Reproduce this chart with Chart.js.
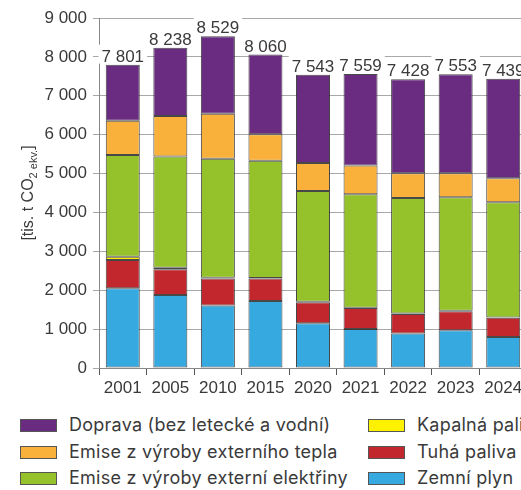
<!DOCTYPE html>
<html>
<head>
<meta charset="utf-8">
<script src="https://cdn.jsdelivr.net/npm/chart.js@4"></script>
<style>
  html, body { margin: 0; padding: 0; background: #fff; overflow: hidden; }
  #wrap { position: relative; width: 530px; height: 400px; }
  #legend { position: absolute; left: 0; top: 400px; width: 600px; font-family: Inter, sans-serif; font-size: 18px; letter-spacing: 0.25px; color: #3a3a3a; }
  .item { position: absolute; white-space: nowrap; height: 26px; line-height: 26px; }
  .item span.box { position: absolute; left: 0; top: 7px; width: 35px; height: 11px; border: 1px solid #555; }
  .item span.txt { position: absolute; left: 49px; top: 0; }
</style>
</head>
<body>
<div id="wrap"><canvas id="chart"></canvas></div>
<div id="legend"></div>
<script>
const years = ['2001', '2005', '2010', '2015', '2020', '2021', '2022', '2023', '2024'];
const zemniPlyn = [2050, 1880, 1610, 1720, 1150, 1000, 890, 970, 800];
const tuhaPaliva = [730, 660, 690, 580, 540, 540, 500, 490, 490];
const kapalnaPaliva = [80, 40, 20, 15, 15, 10, 10, 10, 10];
const elektrina = [2620, 2860, 3060, 3015, 2845, 2920, 2970, 2920, 2960];
const teplo = [880, 1040, 1160, 680, 720, 740, 640, 620, 620];
const doprava = [1441, 1758, 1989, 2050, 2273, 2349, 2418, 2543, 2559];
const totals = [7801, 8238, 8529, 8060, 7543, 7559, 7428, 7553, 7439];

const fmt = v => String(v).replace(/\B(?=(\d{3})+(?!\d))/g, ' ');
const textColor = '#3a3a3a';
const gridColor = '#a8a8a8';

function ds(label, data, color) {
  return {
    label, data, backgroundColor: color,
    borderColor: 'rgba(40,40,40,0.85)', borderWidth: 1, borderSkipped: false,
    barPercentage: 0.715, categoryPercentage: 1
  };
}

const datasets = [
  ds('Zemní plyn', zemniPlyn, '#36a9e1'),
  ds('Tuhá paliva', tuhaPaliva, '#c1272d'),
  ds('Kapalná paliva', kapalnaPaliva, '#fff200'),
  ds('Emise z výroby externí elektřiny', elektrina, '#95c12b'),
  ds('Emise z výroby externího tepla', teplo, '#f9b13b'),
  ds('Doprava (bez letecké a vodní)', doprava, '#6a2c81')
];

// popisky součtů nad sloupci (bílé pozadí překrývá mřížku)
const totalLabels = {
  id: 'totalLabels',
  afterDatasetsDraw(chart) {
    const ctx = chart.ctx;
    const meta = chart.getDatasetMeta(datasets.length - 1);
    ctx.save();
    ctx.font = '17px "Liberation Sans", Arial, sans-serif';
    ctx.textAlign = 'center';
    ctx.textBaseline = 'alphabetic';
    meta.data.forEach((bar, i) => {
      const t = fmt(totals[i]);
      const w = ctx.measureText(t).width;
      const base = bar.y - 3;
      ctx.fillStyle = '#fff';
      ctx.fillRect(bar.x - w / 2 - 3, base - 17, w + 6, 19);
      ctx.fillStyle = textColor;
      ctx.fillText(t, bar.x, base);
    });
    ctx.restore();
  }
};

// popisek osy Y s dolním indexem
const yTitle = {
  id: 'yTitle',
  afterDraw(chart) {
    const ctx = chart.ctx;
    const a = chart.chartArea;
    const parts = [
      ['[tis. t CO', '16px "Liberation Sans", Arial, sans-serif', 0],
      ['2 ekv.', '11px "Liberation Sans", Arial, sans-serif', 4],
      [']', '16px "Liberation Sans", Arial, sans-serif', 0]
    ];
    ctx.save();
    let total = 0;
    parts.forEach(p => { ctx.font = p[1]; total += ctx.measureText(p[0]).width; });
    ctx.translate(33, (a.top + a.bottom) / 2);
    ctx.rotate(-Math.PI / 2);
    ctx.fillStyle = textColor;
    ctx.textBaseline = 'alphabetic';
    let x = -total / 2;
    parts.forEach(p => {
      ctx.font = p[1];
      ctx.fillText(p[0], x, p[2]);
      x += ctx.measureText(p[0]).width;
    });
    ctx.restore();
  }
};

new Chart(document.getElementById('chart').getContext('2d'), {
  type: 'bar',
  data: { labels: years, datasets },
  options: {
    responsive: true,
    maintainAspectRatio: false,
    animation: false,
    layout: { padding: { top: 18, right: 3, left: 0, bottom: 0 } },
    plugins: { legend: { display: false }, tooltip: { enabled: false } },
    scales: {
      x: {
        stacked: true,
        grid: { display: true, drawOnChartArea: false, offset: true, tickLength: 7, color: '#555' },
        border: { color: '#888' },
        ticks: { color: textColor, padding: 3, font: { family: '"Liberation Sans", Arial, sans-serif', size: 17 } },
        afterFit(s) { s.height = 32; }
      },
      y: {
        stacked: true,
        min: 0, max: 9000,
        grid: { color: gridColor, tickLength: 6 },
        border: { color: '#888' },
        ticks: {
          stepSize: 1000, color: textColor, padding: 6,
          font: { family: '"Liberation Sans", Arial, sans-serif', size: 17 },
          callback: v => fmt(v)
        },
        afterFit(s) { s.width = 99; }
      }
    }
  },
  plugins: [totalLabels, yTitle]
});

// legenda ve dvou sloupcích
const legendOrder = [
  [5, 20, 0], [4, 20, 1], [3, 20, 2],
  [2, 368, 0], [1, 368, 1], [0, 368, 2]
];
const legend = document.getElementById('legend');
legendOrder.forEach(([idx, left, row]) => {
  const d = datasets[idx];
  const el = document.createElement('div');
  el.className = 'item';
  el.style.left = left + 'px';
  el.style.top = (12 + row * 26.5) + 'px';
  el.innerHTML = '<span class="box" style="background:' + d.backgroundColor + '"></span><span class="txt"></span>';
  el.querySelector('.txt').textContent = d.label;
  legend.appendChild(el);
});
</script>
</body>
</html>
